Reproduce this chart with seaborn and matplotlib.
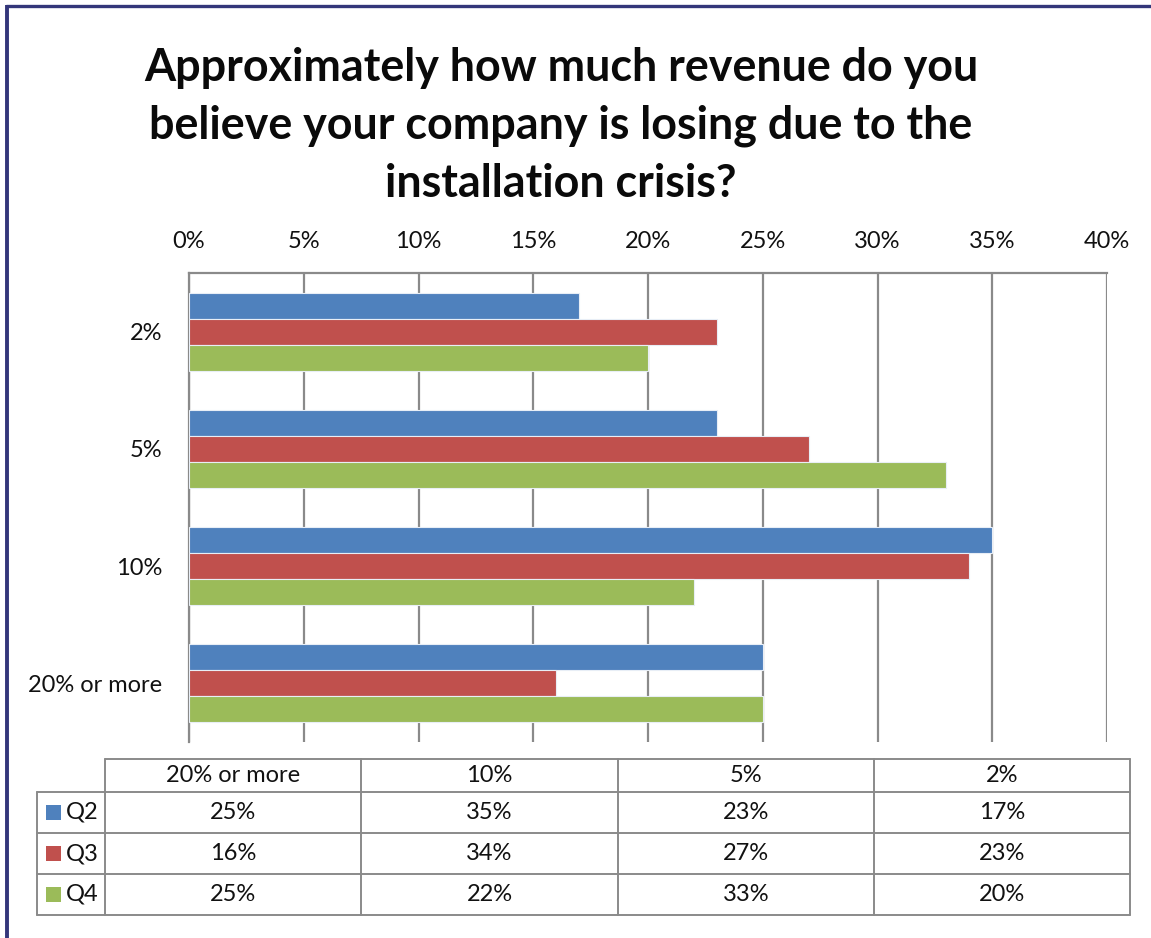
import matplotlib
matplotlib.use("Agg")
import matplotlib.pyplot as plt
from matplotlib.lines import Line2D
from matplotlib.patches import Rectangle
import pandas as pd
import seaborn as sns

# Survey answers and the share of respondents per quarter
categories = ["2%", "5%", "10%", "20% or more"]
series_names = ["Q2", "Q3", "Q4"]
q2_values = [17, 23, 35, 25]
q3_values = [23, 27, 34, 16]
q4_values = [20, 33, 22, 25]
x_ticks = [0, 5, 10, 15, 20, 25, 30, 35, 40]
title_text = ("Approximately how much revenue do you\n"
              "believe your company is losing due to the\n"
              "installation crisis?")

colors = ["#4F81BD", "#C0504D", "#9BBB59"]
grid_gray = "#8A8A8A"
frame_navy = "#33367A"
label_size = 17

sns.set_theme(style="white")
plt.rcParams["font.family"] = ["Lato", "DejaVu Sans"]

W, H = 1151, 938
fig = plt.figure(figsize=(W / 100, H / 100), dpi=100)
fig.patch.set_facecolor("white")

df = pd.DataFrame({
    "answer": categories * 3,
    "quarter": [s for s in series_names for _ in categories],
    "share": q2_values + q3_values + q4_values,
})

def fx(px):
    return px / W

def fy(py):
    return 1 - py / H

ax_left, ax_right, ax_top, ax_bottom = 189, 1107, 273, 742
ax = fig.add_axes([fx(ax_left), fy(ax_bottom), fx(ax_right - ax_left),
                   (ax_bottom - ax_top) / H])
sns.barplot(data=df, y="answer", x="share", hue="quarter", order=categories,
            hue_order=series_names, palette=colors, saturation=1, orient="h",
            width=0.667, gap=0, edgecolor="#E8EEF6", linewidth=0.8, ax=ax,
            legend=False, zorder=3)

ax.set_xlim(0, 40)
ax.set_ylim(3.5, -0.5)
ax.set_xticks(x_ticks)
ax.set_xticklabels([f"{t}%" for t in x_ticks], fontsize=label_size, color="#111111")
ax.xaxis.tick_top()
ax.tick_params(axis="x", length=0, pad=15)
ax.tick_params(axis="y", length=0, pad=19, labelsize=label_size, labelcolor="#111111")
ax.set_xlabel("")
ax.set_ylabel("")
ax.grid(axis="x", color=grid_gray, linewidth=1.6, zorder=0)
ax.set_axisbelow(True)
for side in ("right", "bottom"):
    ax.spines[side].set_visible(False)
for side in ("top", "left"):
    ax.spines[side].set_color(grid_gray)
    ax.spines[side].set_linewidth(1.6)

fig.text(fx(561), fy(126), title_text, ha="center", va="center",
         fontsize=32.3, fontweight="bold", color="#0A0A0A", linespacing=1.46)

# Data table under the plot
tab = fig.add_axes([0, 0, 1, 1])
tab.set_xlim(0, W)
tab.set_ylim(H, 0)
tab.axis("off")
tab.patch.set_alpha(0)

col_x = [105, 361, 618, 874, 1130]
row_y = [759, 792, 833, 874, 915]
legend_x0 = 37
lw_tab = 1.4
# header row outline
tab.add_line(Line2D([col_x[0], col_x[-1]], [row_y[0], row_y[0]], color=grid_gray, lw=lw_tab))
for y in row_y[1:]:
    tab.add_line(Line2D([legend_x0, col_x[-1]], [y, y], color=grid_gray, lw=lw_tab))
for x in col_x:
    tab.add_line(Line2D([x, x], [row_y[0], row_y[-1]], color=grid_gray, lw=lw_tab))
tab.add_line(Line2D([legend_x0, legend_x0], [row_y[1], row_y[-1]], color=grid_gray, lw=lw_tab))

table_cols = categories[::-1]
series_vals = [q2_values, q3_values, q4_values]
for j, cat in enumerate(table_cols):
    cx = (col_x[j] + col_x[j + 1]) / 2
    tab.text(cx, (row_y[0] + row_y[1]) / 2, cat, ha="center", va="center",
             fontsize=label_size, color="#111111")
    src = categories.index(cat)
    for i, vals in enumerate(series_vals):
        cy = (row_y[i + 1] + row_y[i + 2]) / 2
        tab.text(cx, cy, f"{vals[src]}%", ha="center", va="center",
                 fontsize=label_size, color="#111111")
for i, name in enumerate(series_names):
    cy = (row_y[i + 1] + row_y[i + 2]) / 2
    tab.add_patch(Rectangle((46, cy - 7.5), 15, 15, facecolor=colors[i], edgecolor="none"))
    tab.text(66, cy, name, ha="left", va="center", fontsize=label_size, color="#111111")

# outer frame
tab.add_line(Line2D([6, W], [6, 6], color=frame_navy, lw=2.4, solid_capstyle="butt"))
tab.add_line(Line2D([7, 7], [5, H], color=frame_navy, lw=2.8, solid_capstyle="butt"))

fig.savefig("out.png", dpi=100, facecolor="white")
